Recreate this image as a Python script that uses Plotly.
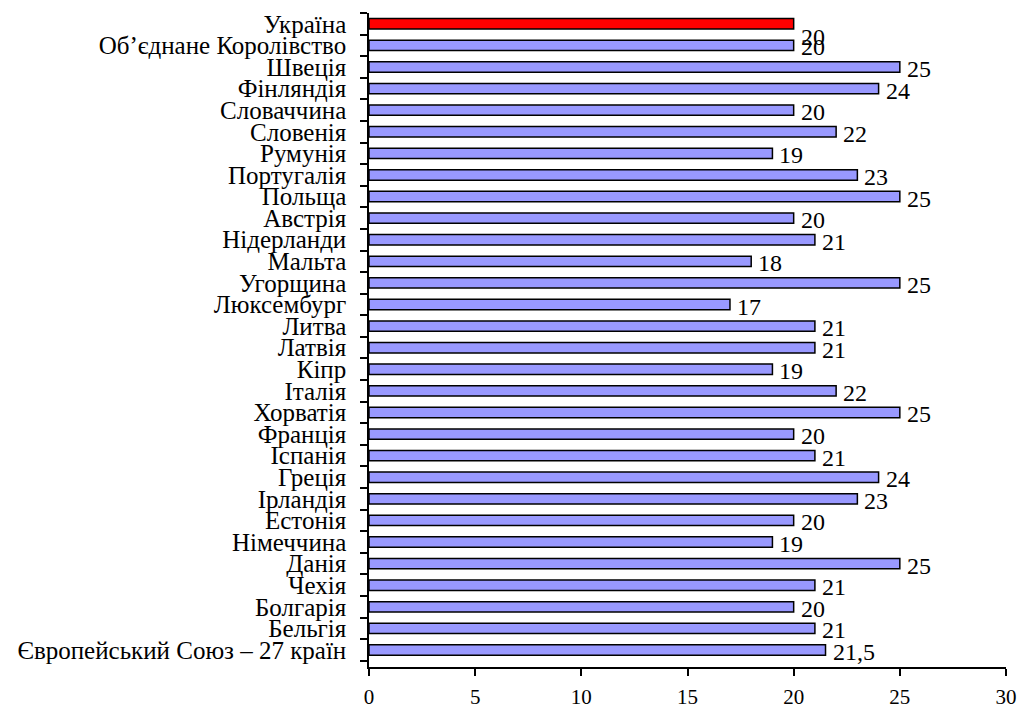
import plotly.graph_objects as go

countries = [
    "Європейський Союз – 27 країн", "Бельгія", "Болгарія", "Чехія", "Данія",
    "Німеччина", "Естонія", "Ірландія", "Греція", "Іспанія", "Франція",
    "Хорватія", "Італія", "Кіпр", "Латвія", "Литва", "Люксембург", "Угорщина",
    "Мальта", "Нідерланди", "Австрія", "Польща", "Португалія", "Румунія",
    "Словенія", "Словаччина", "Фінляндія", "Швеція", "Об’єднане Королівство",
]
values = [21.5, 21, 20, 21, 25, 19, 20, 23, 24, 21, 20, 25, 22, 19, 21, 21, 17,
          25, 18, 21, 20, 25, 23, 19, 22, 20, 24, 25, 20]
ukraine_label = ["Україна"]
ukraine_value = [20]

x_ticks = [0, 5, 10, 15, 20, 25, 30]

FONT = "Liberation Serif"

def fmt(v):
    s = ("%g" % v)
    return s.replace(".", ",")

fig = go.Figure()
fig.add_trace(go.Bar(
    y=countries, x=values, orientation="h",
    marker=dict(color="#9999FF", line=dict(color="black", width=1.5)),
    hoverinfo="skip",
))
fig.add_trace(go.Bar(
    y=ukraine_label, x=ukraine_value, orientation="h",
    marker=dict(color="#FF0000", line=dict(color="black", width=1.5)),
    hoverinfo="skip",
))

annotations = []
for c, v in zip(countries, values):
    annotations.append(dict(x=v, y=c, text=fmt(v), showarrow=False,
                            xanchor="left", yanchor="middle", xshift=5, yshift=-2,
                            font=dict(family=FONT, size=24, color="black")))
for c, v in zip(ukraine_label, ukraine_value):
    annotations.append(dict(x=v, y=c, text=fmt(v), showarrow=False,
                            xanchor="left", yanchor="middle", xshift=5, yshift=-13,
                            font=dict(family=FONT, size=24, color="black")))

all_cats = countries + ukraine_label

fig.update_layout(
    width=1019, height=708,
    margin=dict(l=369, r=13, t=13, b=41),
    paper_bgcolor="white", plot_bgcolor="white",
    showlegend=False,
    barmode="overlay",
    bargap=0.52,
    font=dict(family=FONT, size=21, color="black"),
    annotations=annotations,
)
fig.update_xaxes(
    range=[0, 30], tickmode="array", tickvals=x_ticks,
    ticktext=[str(t) for t in x_ticks],
    automargin=False,
    showgrid=False, zeroline=False,
    showline=True, linecolor="black", linewidth=1.5,
    ticks="outside", ticklen=7, tickwidth=1.5, tickcolor="black",
    ticklabelstandoff=3,
    tickfont=dict(family=FONT, size=21, color="black"),
)
fig.update_yaxes(
    categoryorder="array", categoryarray=all_cats,
    tickmode="array", tickvals=all_cats, ticktext=all_cats,
    automargin=False,
    showgrid=False, zeroline=False,
    showline=True, linecolor="black", linewidth=1.5,
    ticks="outside", ticklen=7, tickwidth=1.5, tickcolor="black",
    tickson="boundaries",
    ticklabelstandoff=16,
    tickfont=dict(family=FONT, size=25, color="black"),
)

fig.write_html("out.html")
